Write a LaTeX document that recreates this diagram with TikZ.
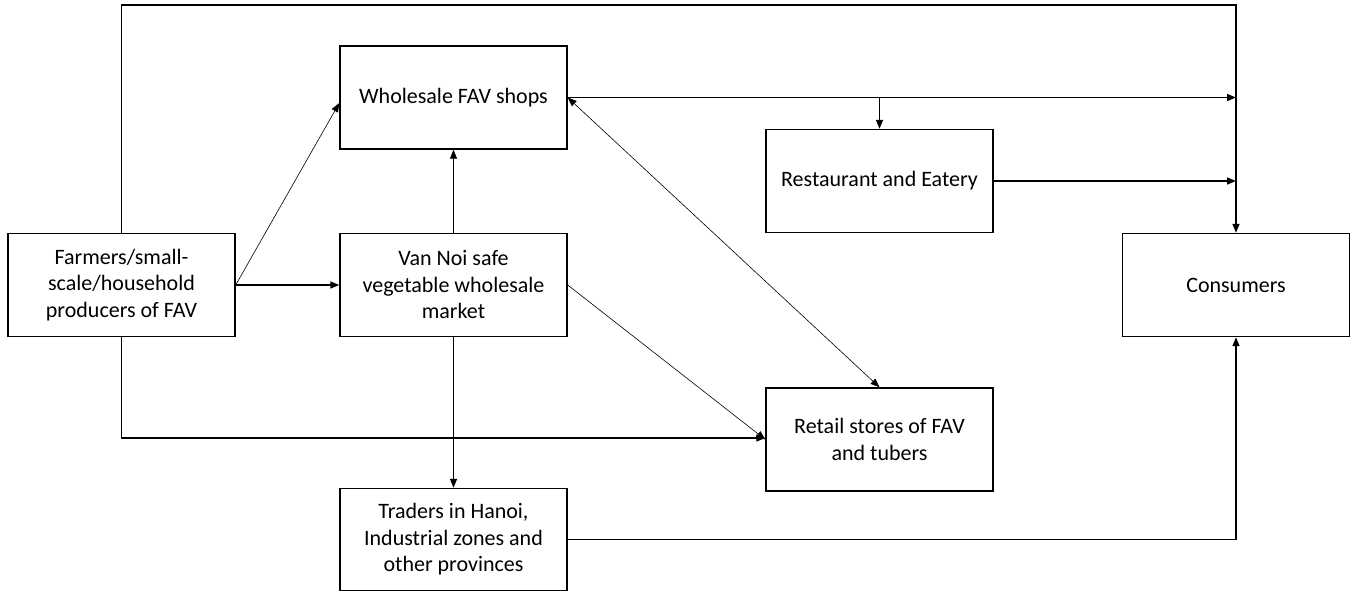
\documentclass[tikz,border=0pt]{standalone}
\usepackage{fontspec}
\setmainfont{Carlito}
\usetikzlibrary{arrows.meta}
\begin{document}
\begin{tikzpicture}[x=1pt,y=-1pt,
  box/.style={draw,line width=1.4pt,minimum width=227pt,minimum height=103pt,inner sep=2pt,align=center,font=\fontsize{22}{26.5}\selectfont},
  main/.style={line width=1.4pt,-{Triangle[length=9pt,width=7pt]}},
  thin/.style={line width=0.6pt,-{Triangle[length=9pt,width=7pt]}}]
\useasboundingbox (0,0) rectangle (1353,592);
\node[box] (far) at (121.5,285) {Farmers/small-\\scale/household\\producers of FAV};
\node[box] (vn) at (453.5,285) {Van Noi safe\\vegetable wholesale\\market};
\node[box] (wh) at (453.5,97.5) {Wholesale FAV shops};
\node[box] (rest) at (879.5,181) {Restaurant and Eatery};
\node[box] (cons) at (1236,285) {Consumers};
\node[box] (ret) at (879.5,439.5) {Retail stores of FAV\\and tubers};
\node[box,minimum height=102pt] (tr) at (453.5,539.5) {Traders in Hanoi,\\Industrial zones and\\other provinces};
\coordinate (topl) at (121.5,5);
\draw[main] (far.north) -- (topl) -| (cons.north);
\draw[main] (wh.east) -- (wh.east -| cons.north);
\draw[main] (rest.north |- wh.east) -- (rest.north);
\draw[main] (rest.east) -- (rest.east -| cons.north);
\draw[main] (far.east) -- (vn.west);
\draw[thin] (far.east) -- ([yshift=-5.5pt]wh.west);
\draw[thin] (vn.north) -- (wh.south);
\draw[thin] (vn.east) -- (ret.west);
\draw[thin,{Triangle[length=9pt,width=7pt]}-{Triangle[length=9pt,width=7pt]}] (wh.east) -- (ret.north);
\draw[main] (far.south) |- ([yshift=1.5pt]ret.west);
\draw[main] (vn.south) -- (tr.north);
\draw[main] (tr.east) -| (cons.south);
\end{tikzpicture}
\end{document}
